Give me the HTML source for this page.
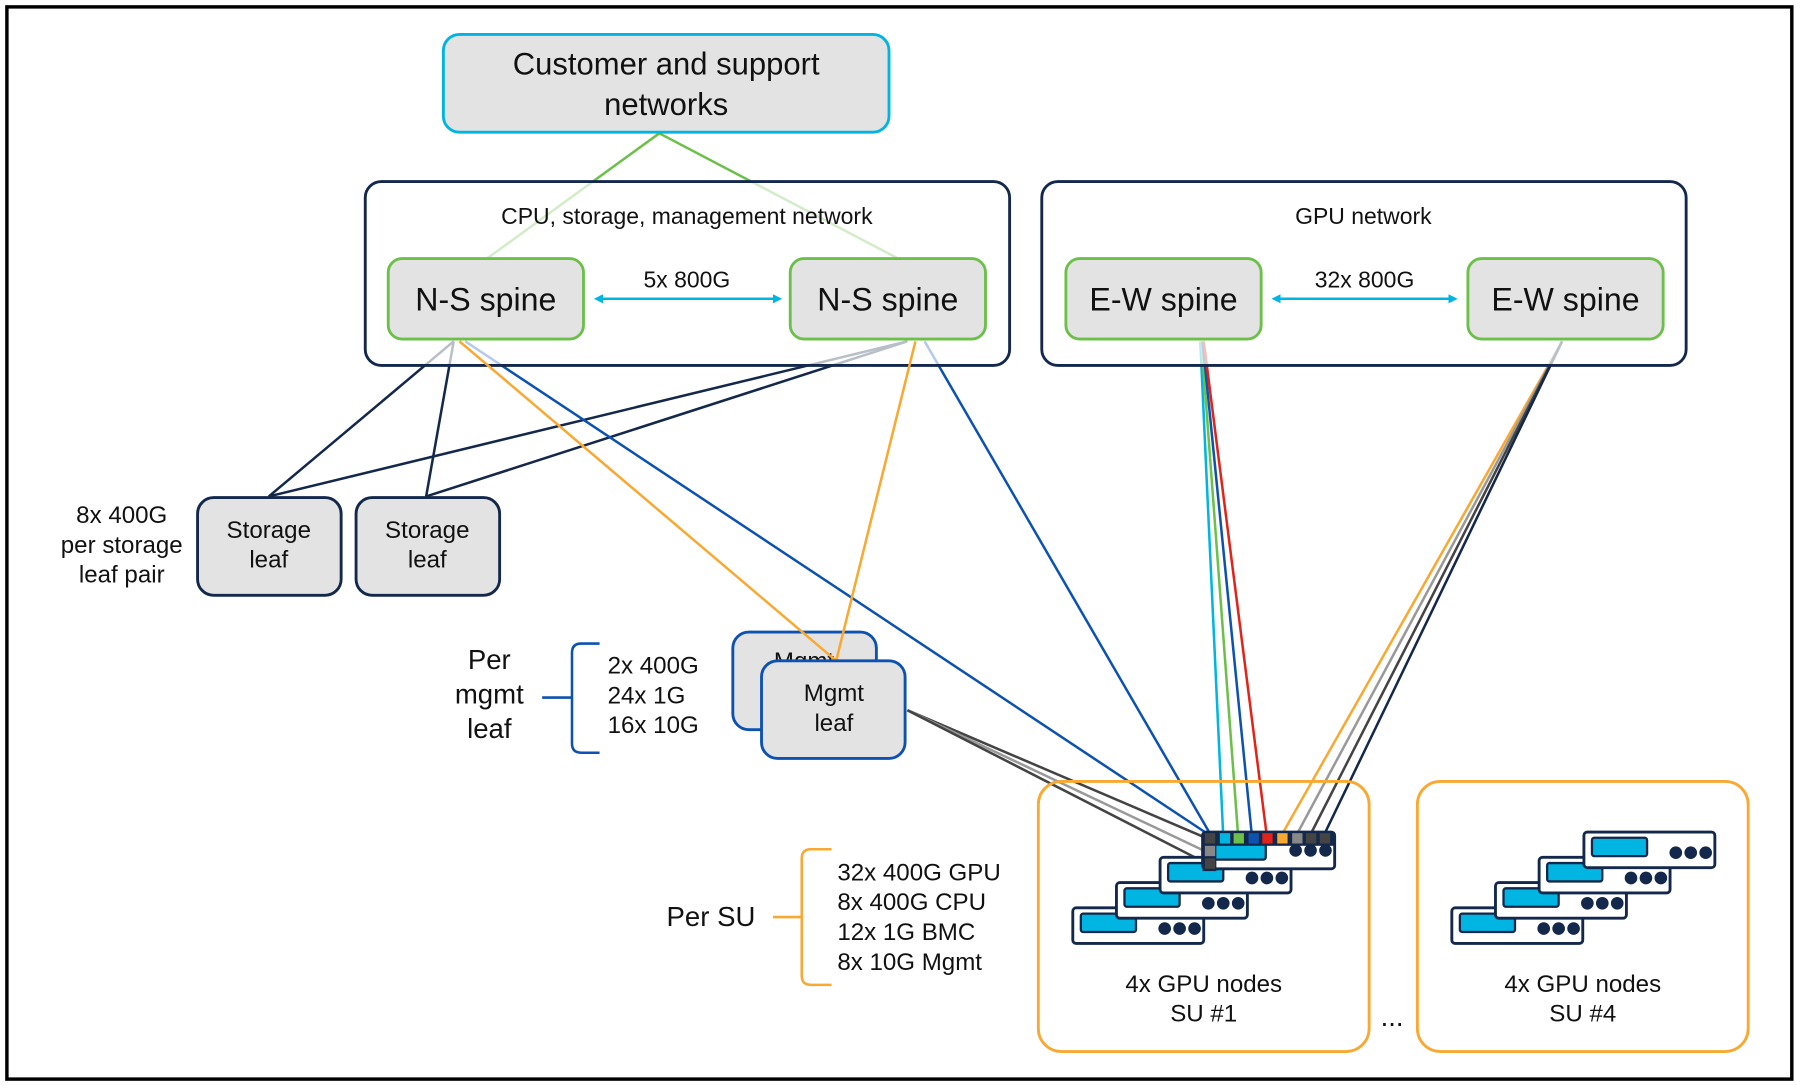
<!DOCTYPE html>
<html><head><meta charset="utf-8"><style>html,body{margin:0;padding:0;background:#fff}svg{display:block}text{font-family:"Liberation Sans",sans-serif;fill:#111}</style></head>
<body>
<svg width="1801" height="1086" viewBox="0 0 1568 945" preserveAspectRatio="none" xmlns="http://www.w3.org/2000/svg">
<defs>
<marker id="a" markerWidth="8" markerHeight="8" refX="6" refY="4" orient="auto-start-reverse" markerUnits="userSpaceOnUse"><path d="M0,0 L8,4 L0,8 z" fill="#00b5e2"/></marker>
<g id="srv"><rect x="0" y="0" width="114" height="31" rx="3" fill="#fff" stroke="#13284b" stroke-width="2.5"/><rect x="7" y="5" width="48" height="16" rx="2" fill="#00b5e2" stroke="#13284b" stroke-width="2"/><circle cx="80" cy="18" r="5.5" fill="#13284b"/><circle cx="93" cy="18" r="5.5" fill="#13284b"/><circle cx="106" cy="18" r="5.5" fill="#13284b"/></g>
</defs>
<rect x="6" y="6" width="1554" height="933" fill="#fff" stroke="#000" stroke-width="3"/>
<!-- lines -->
<g fill="none" stroke-width="2.2">
<line x1="574" y1="116" x2="424" y2="225" stroke="#6cc04a"/>
<line x1="574" y1="116" x2="782" y2="225" stroke="#6cc04a"/>
<line x1="395" y1="297" x2="234" y2="432" stroke="#13284b"/>
<line x1="395" y1="297" x2="371" y2="432" stroke="#13284b"/>
<line x1="790" y1="297" x2="234" y2="432" stroke="#13284b"/>
<line x1="790" y1="297" x2="371" y2="432" stroke="#13284b"/>
<line x1="405" y1="297" x2="1055" y2="728" stroke="#0d52b0"/>
<line x1="805" y1="297" x2="1055" y2="728" stroke="#0d52b0"/>
<line x1="790" y1="618" x2="1052" y2="730" stroke="#444"/>
<line x1="790" y1="618" x2="1052" y2="742" stroke="#999"/>
<line x1="790" y1="618" x2="1052" y2="752" stroke="#444"/>
<line x1="1045" y1="297" x2="1065" y2="728" stroke="#00b5e2"/>
<line x1="1046" y1="297" x2="1078" y2="728" stroke="#6cc04a"/>
<line x1="1047" y1="297" x2="1090" y2="728" stroke="#0d52b0"/>
<line x1="1048" y1="297" x2="1103" y2="728" stroke="#e2231a"/>
<line x1="1360" y1="297" x2="1115" y2="728" stroke="#f8a932"/>
<line x1="1360" y1="297" x2="1128" y2="728" stroke="#999"/>
<line x1="1360" y1="297" x2="1140" y2="728" stroke="#444"/>
<line x1="1360" y1="297" x2="1152" y2="728" stroke="#13284b"/>
</g>
<!-- top -->
<rect x="386" y="30" width="388" height="85" rx="14" fill="#e3e3e3" stroke="#00b5e2" stroke-width="2.5"/>
<text x="580" y="65" font-size="27" text-anchor="middle">Customer and support</text>
<text x="580" y="100" font-size="27" text-anchor="middle">networks</text>
<rect x="318" y="158" width="561" height="160" rx="14" fill="#fff" fill-opacity="0.7" stroke="#13284b" stroke-width="2.5"/>
<rect x="907" y="158" width="561" height="160" rx="14" fill="#fff" fill-opacity="0.7" stroke="#13284b" stroke-width="2.5"/>
<text x="598" y="195" font-size="20" text-anchor="middle">CPU, storage, management network</text>
<text x="1187" y="195" font-size="20" text-anchor="middle">GPU network</text>
<g stroke="#6cc04a" stroke-width="2.5" fill="#e3e3e3">
<rect x="338" y="225" width="170" height="70" rx="12"/><rect x="688" y="225" width="170" height="70" rx="12"/>
<rect x="928" y="225" width="170" height="70" rx="12"/><rect x="1278" y="225" width="170" height="70" rx="12"/>
</g>
<g font-size="28" text-anchor="middle"><text x="423" y="270">N-S spine</text><text x="773" y="270">N-S spine</text><text x="1013" y="270">E-W spine</text><text x="1363" y="270">E-W spine</text></g>
<line x1="519" y1="260" x2="679" y2="260" stroke="#00b5e2" stroke-width="2.2" marker-start="url(#a)" marker-end="url(#a)"/>
<line x1="1109" y1="260" x2="1267" y2="260" stroke="#00b5e2" stroke-width="2.2" marker-start="url(#a)" marker-end="url(#a)"/>
<text x="598" y="250" font-size="20" text-anchor="middle">5x 800G</text>
<text x="1188" y="250" font-size="20" text-anchor="middle">32x 800G</text>
<!-- storage -->
<g stroke="#13284b" stroke-width="2.5" fill="#e3e3e3"><rect x="172" y="433" width="125" height="85" rx="14"/><rect x="310" y="433" width="125" height="85" rx="14"/></g>
<g font-size="21" text-anchor="middle"><text x="234" y="468">Storage</text><text x="234" y="494">leaf</text><text x="372" y="468">Storage</text><text x="372" y="494">leaf</text>
<text x="106" y="455">8x 400G</text><text x="106" y="481">per storage</text><text x="106" y="507">leaf pair</text></g>
<!-- mgmt -->
<rect x="638" y="550" width="125" height="85" rx="14" fill="#e3e3e3" stroke="#0d52b0" stroke-width="2.5"/>
<text x="700" y="582" font-size="21" text-anchor="middle">Mgmt</text>
<line x1="400" y1="297" x2="728" y2="575" stroke="#f8a932" stroke-width="2.2"/>
<line x1="797" y1="297" x2="728" y2="575" stroke="#f8a932" stroke-width="2.2"/>
<rect x="663" y="575" width="125" height="85" rx="14" fill="#e3e3e3" stroke="#0d52b0" stroke-width="2.5"/>
<text x="726" y="610" font-size="21" text-anchor="middle">Mgmt</text><text x="726" y="636" font-size="21" text-anchor="middle">leaf</text>
<g font-size="24" text-anchor="middle"><text x="426" y="582">Per</text><text x="426" y="612">mgmt</text><text x="426" y="642">leaf</text></g>
<path d="M472,607 H498 M522,560 H506 Q498,560 498,568 V647 Q498,655 506,655 H522" fill="none" stroke="#0d52b0" stroke-width="2.2"/>
<g font-size="21"><text x="529" y="586">2x 400G</text><text x="529" y="612">24x 1G</text><text x="529" y="638">16x 10G</text></g>
<!-- SU -->
<text x="619" y="806" font-size="24" text-anchor="middle">Per SU</text>
<path d="M673,798 H698 M724,739 H706 Q698,739 698,747 V849 Q698,857 706,857 H724" fill="none" stroke="#f8a932" stroke-width="2.2"/>
<g font-size="21"><text x="729" y="766">32x 400G GPU</text><text x="729" y="792">8x 400G CPU</text><text x="729" y="818">12x 1G BMC</text><text x="729" y="844">8x 10G Mgmt</text></g>
<rect x="904" y="680" width="288" height="235" rx="20" fill="none" stroke="#f8a932" stroke-width="2.5"/>
<rect x="1234" y="680" width="288" height="235" rx="20" fill="none" stroke="#f8a932" stroke-width="2.5"/>
<use href="#srv" x="934" y="790"/><use href="#srv" x="972" y="768"/><use href="#srv" x="1010" y="746"/>
<g><rect x="1047" y="724" width="115" height="32" rx="3" fill="#fff" stroke="#13284b" stroke-width="2.5"/><rect x="1054" y="732" width="48" height="16" rx="2" fill="#00b5e2" stroke="#13284b" stroke-width="2"/><circle cx="1128" cy="740" r="5.5" fill="#13284b"/><circle cx="1141" cy="740" r="5.5" fill="#13284b"/><circle cx="1154" cy="740" r="5.5" fill="#13284b"/>
<rect x="1047" y="724" width="115" height="12" fill="#13284b"/>
<rect x="1049" y="725" width="9" height="9" fill="#444"/><rect x="1062" y="725" width="9" height="9" fill="#00b5e2"/><rect x="1074" y="725" width="9" height="9" fill="#6cc04a"/><rect x="1087" y="725" width="9" height="9" fill="#0d52b0"/><rect x="1099" y="725" width="9" height="9" fill="#e2231a"/><rect x="1112" y="725" width="9" height="9" fill="#f8a932"/><rect x="1125" y="725" width="9" height="9" fill="#888"/><rect x="1137" y="725" width="9" height="9" fill="#444"/><rect x="1149" y="725" width="9" height="9" fill="#444"/>
<rect x="1047" y="734" width="12" height="24" fill="#13284b"/><rect x="1049" y="736" width="9" height="9" fill="#888"/><rect x="1049" y="747" width="9" height="9" fill="#444"/></g>
<use href="#srv" x="1264" y="790"/><use href="#srv" x="1302" y="768"/><use href="#srv" x="1340" y="746"/><use href="#srv" x="1379" y="724"/>
<g font-size="21" text-anchor="middle"><text x="1048" y="863">4x GPU nodes</text><text x="1048" y="889">SU #1</text><text x="1378" y="863">4x GPU nodes</text><text x="1378" y="889">SU #4</text></g>
<text x="1212" y="893" font-size="24" text-anchor="middle">...</text>
</svg>
</body></html>
